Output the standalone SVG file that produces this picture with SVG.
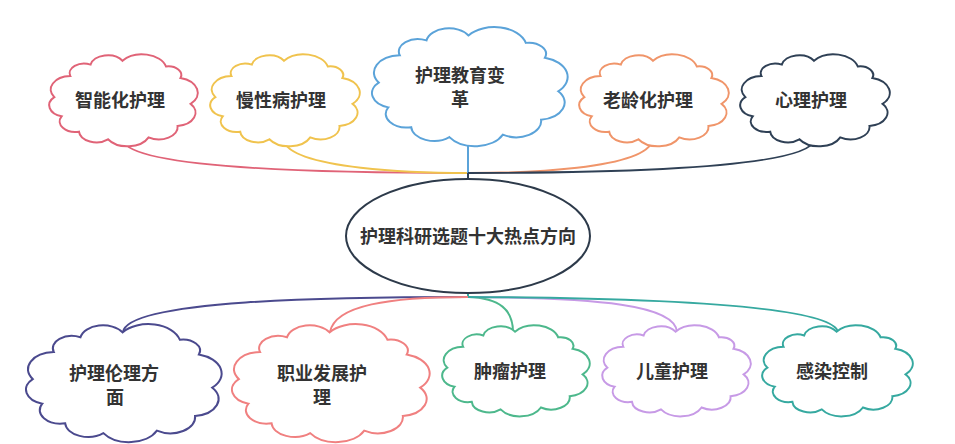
<svg xmlns="http://www.w3.org/2000/svg" width="955" height="444" viewBox="0 0 955 444">
<style>
.cloud{fill:#fff;stroke-width:2}
.lbl{font-family:"Noto Sans CJK SC","Noto Sans",sans-serif;font-size:18px;font-weight:bold;fill:#333;text-anchor:middle}
.conn{fill:none;stroke-width:2}
</style>
<defs>
<path id="cl" vector-effect="non-scaling-stroke" d="M3,48 A14,14 0 0 1 14,26 A10,10 0 0 1 28,14 A12,12 0 0 1 50,10 A17,17 0 0 1 80,16 A9,9 0 0 1 90,28 A16,16 0 0 1 97,55 A14,14 0 0 1 88,78 A13,13 0 0 1 68,90 A16,16 0 0 1 40,92 A12,12 0 0 1 20,84 A11,11 0 0 1 8,68 A12,12 0 0 1 3,48 Z"/>
</defs>
<rect width="955" height="444" fill="#fff"/>
<g id="connectors">
<path class="conn" stroke="#e06377" d="M123,140 C130,172 380,173 468,173"/>
<path class="conn" stroke="#f0c34e" d="M283,140 C292,170 420,173 468,173"/>
<path class="conn" stroke="#5ba3d9" d="M468,140 L468,173"/>
<path class="conn" stroke="#f0956a" d="M653,140 C645,170 520,173 468,173"/>
<path class="conn" stroke="#2f4055" d="M815,140 C805,172 560,173 468,173"/>
<path class="conn" stroke="#2f4055" d="M468,173 L468,180"/>
<path class="conn" stroke="#36a9a0" d="M468,291 L468,297"/>
<path class="conn" stroke="#4b4a8e" d="M468,297 C330,297 128,300 123,332"/>
<path class="conn" stroke="#f08080" d="M468,297 C390,297 335,305 330,332"/>
<path class="conn" stroke="#4db88c" d="M468,297 C500,298 513,310 513,332"/>
<path class="conn" stroke="#c79ae6" d="M468,297 C600,298 675,305 677,332"/>
<path class="conn" stroke="#36a9a0" d="M468,297 C650,298 832,305 838,332"/>
</g>
<g id="center">
<ellipse cx="468" cy="236" rx="122" ry="57" fill="#fff" stroke="#2d3a4a" stroke-width="2"/>
<text class="lbl" x="468" y="243">护理科研选题十大热点方向</text>
</g>
<g id="n1">
<use href="#cl" class="cloud" stroke="#e06377" transform="translate(50,51.17) scale(1.45,0.958)"/>
<text class="lbl" x="120" y="106.5">智能化护理</text>
</g>
<g id="n2">
<use href="#cl" class="cloud" stroke="#f0c34e" transform="translate(211,51.17) scale(1.46,0.958)"/>
<text class="lbl" x="281" y="106.5">慢性病护理</text>
</g>
<g id="n3">
<use href="#cl" class="cloud" stroke="#5ba3d9" transform="translate(373,23.04) scale(1.91,1.24)"/>
<text class="lbl" x="460" y="82">护理教育变</text>
<text class="lbl" x="460" y="106">革</text>
</g>
<g id="n4">
<use href="#cl" class="cloud" stroke="#f0956a" transform="translate(580,51.17) scale(1.46,0.958)"/>
<text class="lbl" x="648" y="106.5">老龄化护理</text>
</g>
<g id="n5">
<use href="#cl" class="cloud" stroke="#2f4055" transform="translate(741,51.17) scale(1.46,0.958)"/>
<text class="lbl" x="811" y="106.5">心理护理</text>
</g>
<g id="n6">
<use href="#cl" class="cloud" stroke="#4b4a8e" transform="translate(27,320.08) scale(1.91,1.229)"/>
<text class="lbl" x="114" y="380">护理伦理方</text>
<text class="lbl" x="115" y="404">面</text>
</g>
<g id="n7">
<use href="#cl" class="cloud" stroke="#f08080" transform="translate(233,320.08) scale(1.93,1.229)"/>
<text class="lbl" x="322" y="380">职业发展护</text>
<text class="lbl" x="322" y="404">理</text>
</g>
<g id="n8">
<use href="#cl" class="cloud" stroke="#4db88c" transform="translate(443,322.2) scale(1.44,0.948)"/>
<text class="lbl" x="510" y="378">肿瘤护理</text>
</g>
<g id="n9">
<use href="#cl" class="cloud" stroke="#c79ae6" transform="translate(603,322.2) scale(1.45,0.948)"/>
<text class="lbl" x="672" y="378">儿童护理</text>
</g>
<g id="n10">
<use href="#cl" class="cloud" stroke="#36a9a0" transform="translate(763,322.2) scale(1.47,0.948)"/>
<text class="lbl" x="832" y="378">感染控制</text>
</g>
</svg>
